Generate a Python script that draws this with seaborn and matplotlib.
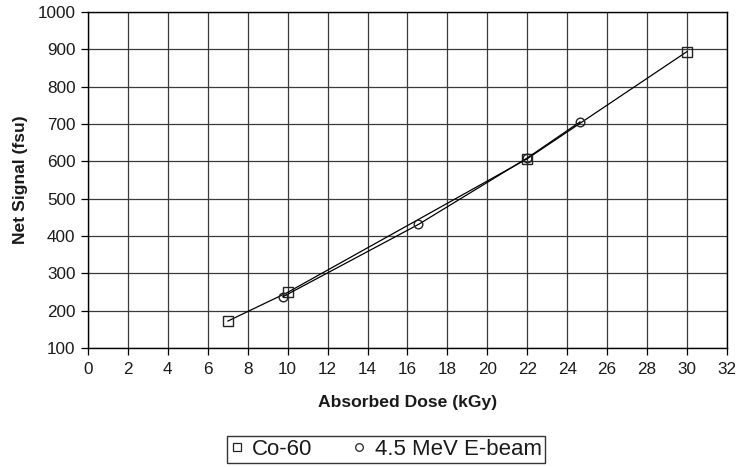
import matplotlib
matplotlib.use("Agg")
import matplotlib.pyplot as plt
import seaborn as sns
import pandas as pd
from matplotlib.lines import Line2D

sns.set_theme(style="white")
plt.rcParams['font.family'] = ['Liberation Sans', 'DejaVu Sans']

co60_dose = [7.0, 10.0, 22.0, 30.0]
co60_signal = [172, 249, 607, 894]
ebeam_dose = [9.75, 16.55, 22.0, 24.65]
ebeam_signal = [237, 431, 609, 706]
x_ticks = list(range(0, 33, 2))
y_ticks = list(range(100, 1001, 100))

df_co = pd.DataFrame({"dose": co60_dose, "signal": co60_signal})
df_eb = pd.DataFrame({"dose": ebeam_dose, "signal": ebeam_signal})

fig = plt.figure(figsize=(7.38, 4.67), dpi=100)
ax = fig.add_axes([0.1192, 0.2548, 0.8658, 0.7195])

sns.lineplot(data=df_co, x="dose", y="signal", ax=ax, color="black", lw=0.9,
             marker="s", markersize=7.2, markerfacecolor="none",
             markeredgecolor="#222222", markeredgewidth=1.0, zorder=3)
sns.lineplot(data=df_eb, x="dose", y="signal", ax=ax, color="black", lw=0.9,
             marker="o", markersize=6.2, markerfacecolor="none",
             markeredgecolor="#222222", markeredgewidth=1.0, zorder=3)

ax.set_xlim(0, 32)
ax.set_ylim(100, 1000)
ax.set_xticks(x_ticks)
ax.set_yticks(y_ticks)
ax.grid(True, color="#3a3a3a", linewidth=0.9)
for s in ax.spines.values():
    s.set_visible(True)
    s.set_color("black")
    s.set_linewidth(1.0)
ax.tick_params(axis="both", which="major", direction="out", length=5,
               width=0.9, color="black", labelsize=12.3, colors="black",
               left=True, bottom=True)
ax.tick_params(axis="x", pad=5)
ax.tick_params(axis="y", pad=4)
for lab in ax.get_xticklabels() + ax.get_yticklabels():
    lab.set_color("#1a1a1a")
ax.set_xlabel("Absorbed Dose (kGy)", fontsize=12.6, fontweight="bold",
              labelpad=13, color="#1a1a1a")
ax.set_ylabel("Net Signal (fsu)", fontsize=12.6, fontweight="bold",
              labelpad=7, color="#1a1a1a")

handles = [
    Line2D([], [], linestyle="none", marker="s", markersize=5.5,
           markerfacecolor="none", markeredgecolor="#222222", markeredgewidth=0.9),
    Line2D([], [], linestyle="none", marker="o", markersize=5.5,
           markerfacecolor="none", markeredgecolor="#222222", markeredgewidth=0.9),
]
leg = fig.legend(handles, ["Co-60", "4.5 MeV E-beam"], ncol=2,
                 loc="center", bbox_to_anchor=(386 / 738, 1 - 449.5 / 467),
                 fontsize=16, frameon=True, fancybox=False,
                 handlelength=0.6, handletextpad=0.4, columnspacing=1.8,
                 borderpad=0.15, borderaxespad=0)
leg.get_frame().set_edgecolor("black")
leg.get_frame().set_linewidth(1.0)
for t in leg.get_texts():
    t.set_color("#1a1a1a")

fig.savefig("out.png", dpi=100)
